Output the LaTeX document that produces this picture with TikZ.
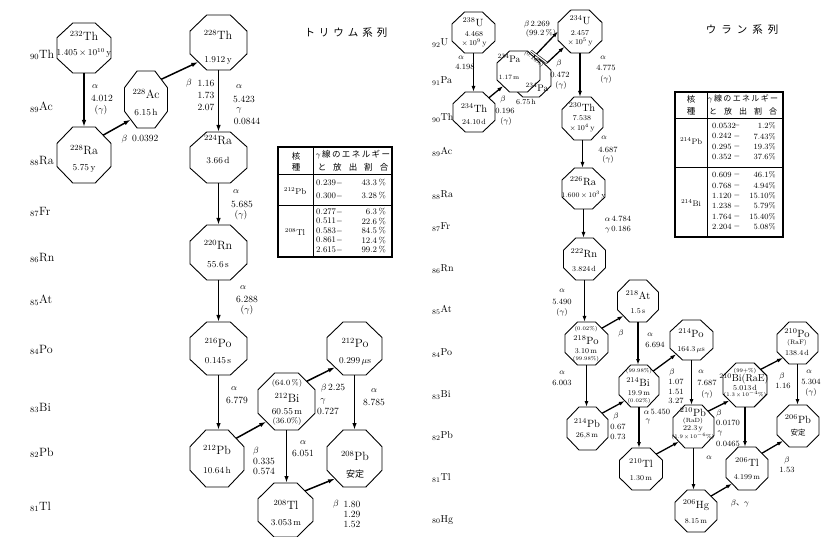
\documentclass[tikz,border=0pt]{standalone}
\usepackage{fontspec}
\newfontfamily\jp{Noto Sans CJK JP}
\usetikzlibrary{calc,arrows.meta}
\newcommand{\octnode}[5][]{%
  \node[octbox, minimum width=#4pt, minimum height=#5pt] (#2) at (#3) {};
  \draw[octline,#1] ($(#2.north west)!.293!(#2.north east)$) -- ($(#2.north east)!.293!(#2.north west)$) -- ($(#2.north east)!.293!(#2.south east)$) -- ($(#2.south east)!.293!(#2.north east)$) -- ($(#2.south east)!.293!(#2.south west)$) -- ($(#2.south west)!.293!(#2.south east)$) -- ($(#2.south west)!.293!(#2.north west)$) -- ($(#2.north west)!.293!(#2.south west)$) -- cycle;
  \coordinate (#2-ne) at ($(#2.north east)!.146!(#2.south west)$);
  \coordinate (#2-sw) at ($(#2.south west)!.146!(#2.north east)$);
}
\newcommand{\ms}[2]{\textsuperscript{#1}#2}
\tikzset{
  octbox/.style={draw=none, inner sep=0pt, outer sep=0pt},
  octline/.style={line width=0.9pt, line join=miter},
  decay/.style={line width=1.5pt, -{Latex[length=7pt,width=4.5pt]}},
  rdecay/.style={line width=1.3pt, -{Latex[length=6pt,width=4pt]}},
  itline/.style={double, double distance=1.2pt, line width=0.6pt},
  big/.style={inner sep=0pt, font=\fontsize{12}{12}\selectfont},
  hl/.style={inner sep=0pt, font=\fontsize{9}{9}\selectfont},
  lab/.style={inner sep=0pt, font=\fontsize{9.5}{9.5}\selectfont},
  small/.style={inner sep=0pt, font=\fontsize{8}{8}\selectfont},
  side/.style={inner sep=0pt, anchor=west, font=\fontsize{12}{12}\selectfont},
  rside/.style={inner sep=0pt, anchor=west, font=\fontsize{10}{10}\selectfont},
  rbig/.style={inner sep=0pt, font=\fontsize{10.5}{10.5}\selectfont},
  rhl/.style={inner sep=0pt, font=\fontsize{7.5}{7.5}\selectfont},
  rlab/.style={inner sep=0pt, font=\fontsize{8}{8}\selectfont},
  tiny/.style={inner sep=0pt, font=\fontsize{5.5}{5.5}\selectfont},
  tab/.style={inner sep=0pt, font=\fontsize{8.5}{8.5}\selectfont},
  rtab/.style={inner sep=0pt, font=\fontsize{8}{8}\selectfont},
  jph/.style={inner sep=0pt, font=\jp\fontsize{8.5}{8.5}\selectfont},
  tabo/.style={line width=1.1pt},
  tabi/.style={line width=0.8pt},
}
\begin{document}
\begin{tikzpicture}[x=1pt,y=-1pt]
\useasboundingbox[fill=white] (0,0) rectangle (830,537);

%================ LEFT : Thorium series =================
\node[side] (s90) at (30,55) {\textsubscript{90}Th};
\node[side] (s89) at (30,107) {\textsubscript{89}Ac};
\node[side] (s88) at (30,161) {\textsubscript{88}Ra};
\node[side] (s87) at (30,212) {\textsubscript{87}Fr};
\node[side] (s86) at (30,258) {\textsubscript{86}Rn};
\node[side] (s85) at (30,300) {\textsubscript{85}At};
\node[side] (s84) at (30,350) {\textsubscript{84}Po};
\node[side] (s83) at (30,408) {\textsubscript{83}Bi};
\node[side] (s82) at (30,453) {\textsubscript{82}Pb};
\node[side] (s81) at (30,507) {\textsubscript{81}Tl};

\node[inner sep=0pt, font=\jp\fontsize{10.5}{10.5}\selectfont] (ttl) at (346,33) {ト\hspace{4pt}リ\hspace{4pt}ウ\hspace{4pt}ム\hspace{4pt}系\hspace{4pt}列};

\octnode{th232}{84,48}{54}{50}
\octnode{ra228}{84,155}{54}{56}
\octnode{ac228}{146,99.5}{43}{57}
\octnode{th228}{218.5,42.5}{57}{55}
\octnode{ra224}{218.5,157.5}{57}{51}
\octnode{rn220}{218.5,252.5}{57}{55}
\octnode{po216}{218.5,348.5}{57}{53}
\octnode{pb212}{217,458.5}{54}{57}
\octnode{bi212}{286.5,401.5}{57}{57}
\octnode{po212}{354.5,348.5}{55}{53}
\octnode{pb208}{354.5,458.5}{55}{57}
\octnode{tl208}{285.5,510}{55}{54}

\node[big] (t1) at (84,36) {\ms{232}{Th}};
\node[hl] (t2) at (84,53) {1.405\,$\times$\,10\textsuperscript{10}\,y};
\node[big] (t3) at (84,150) {\ms{228}{Ra}};
\node[hl] (t4) at (84,168) {5.75\,y};
\node[big] (t5) at (146,94) {\ms{228}{Ac}};
\node[hl] (t6) at (146,112) {6.15\,h};
\node[big] (t7) at (218,35) {\ms{228}{Th}};
\node[hl] (t8) at (218,60) {1.912\,y};
\node[big] (t9) at (218,140) {\ms{224}{Ra}};
\node[hl] (t10) at (218,160) {3.66\,d};
\node[big] (t11) at (218,245) {\ms{220}{Rn}};
\node[hl] (t12) at (218,265) {55.6\,s};
\node[big] (t13) at (218,343) {\ms{216}{Po}};
\node[hl] (t14) at (218,361) {0.145\,s};
\node[big] (t15) at (355,343) {\ms{212}{Po}};
\node[hl] (t16) at (355,361) {0.299\,$\mu$s};
\node[big] (t17) at (217,450) {\ms{212}{Pb}};
\node[hl] (t18) at (217,470) {10.64\,h};
\node[small] (t19) at (287,383) {(64.0\,\%)};
\node[big] (t20) at (287,398) {\ms{212}{Bi}};
\node[hl] (t21) at (287,412) {60.55\,m};
\node[small] (t22) at (287,421) {(36.0\%)};
\node[big] (t23) at (355,456) {\ms{208}{Pb}};
\node[inner sep=0pt, font=\jp\fontsize{9}{9}\selectfont] (t24) at (355,474) {安定};
\node[big] (t25) at (286,505) {\ms{208}{Tl}};
\node[hl] (t26) at (286,523) {3.053\,m};

\draw[decay] (th232.south) -- (th232.south |- ra228.north);
\draw[decay] (ra228-ne) -- (ac228-sw);
\draw[decay] (ac228-ne) -- (th228-sw);
\draw[decay] (th228.south) -- (ra224.north);
\draw[decay] (ra224.south) -- (rn220.north);
\draw[decay] (rn220.south) -- (po216.north);
\draw[decay] (po216.south) -- (po216.south |- pb212.north);
\draw[decay] (pb212-ne) -- (bi212-sw);
\draw[decay] (bi212-ne) -- (po212-sw);
\draw[decay] (po212.south) -- (pb208.north);
\draw[decay] (bi212.south) -- (bi212.south |- tl208.north);
\draw[decay] (tl208-ne) -- (pb208-sw);

\node[lab] (l1) at (95,87) {$\alpha$};
\node[lab] (l2) at (102,98) {4.012};
\node[lab] (l3) at (101,110) {($\gamma$)};
\node[lab] (l4) at (140,139) {$\beta$\enspace0.0392};
\node[lab] (l5) at (189,83) {$\beta$};
\node[lab] (l6) at (206,83) {1.16};
\node[lab] (l7) at (206,95) {1.73};
\node[lab] (l8) at (206,107) {2.07};
\node[lab] (l9) at (239,87) {$\alpha$};
\node[lab] (l10) at (244,99) {5.423};
\node[lab] (l11) at (239,110) {$\gamma$};
\node[lab] (l12) at (247,121) {0.0844};
\node[lab] (l13) at (236,192) {$\alpha$};
\node[lab] (l14) at (242,204) {5.685};
\node[lab] (l15) at (241,215) {($\gamma$)};
\node[lab] (l16) at (243,288) {$\alpha$};
\node[lab] (l17) at (247,299) {6.288};
\node[lab] (l18) at (247,310) {($\gamma$)};
\node[lab] (l19) at (234,389) {$\alpha$};
\node[lab] (l20) at (237,400) {6.779};
\node[lab] (l21) at (333,388) {$\beta$\,2.25};
\node[lab] (l22) at (323,401) {$\gamma$};
\node[lab] (l23) at (328,411) {0.727};
\node[lab] (l24) at (374,391) {$\alpha$};
\node[lab] (l25) at (374,402) {8.785};
\node[lab] (l26) at (256,451) {$\beta$};
\node[lab] (l27) at (264,461) {0.335};
\node[lab] (l28) at (264,471) {0.574};
\node[lab] (l29) at (303,443) {$\alpha$};
\node[lab] (l30) at (303,453) {6.051};
\node[lab] (l31) at (336,504) {$\beta$};
\node[lab] (l32) at (352,504) {1.80};
\node[lab] (l33) at (352,514) {1.29};
\node[lab] (l34) at (352,524) {1.52};

\draw[tabo] (278,147) rectangle (392,257);
\draw[tabi] (313,147) -- (313,257);
\draw[tabi] (278,174) -- (392,174);
\draw[tabi] (278,205) -- (392,205);
\node[jph] (h1) at (296,156) {核};
\node[jph] (h2) at (296,167) {種};
\node[inner sep=0pt, font=\jp\fontsize{8.5}{8.5}\selectfont] (h3) at (353,155) {$\gamma$\,線\,の\,エ\,ネ\,ル\,ギ\,ー};
\node[jph] (h4) at (353,167) {と\hspace{7pt}放\hspace{7pt}出\hspace{7pt}割\hspace{7pt}合};
\node[tab] (k1) at (295,191) {\ms{212}{Pb}};
\node[tab] (k2) at (295,232) {\ms{208}{Tl}};
\node[tab,anchor=west] (a1) at (316,183) {0.239$-$};
\node[tab,anchor=east] (b1) at (386,183) {43.3\,\%};
\node[tab,anchor=west] (a2) at (316,196) {0.300$-$};
\node[tab,anchor=east] (b2) at (386,196) {3.28\,\%};
\node[tab,anchor=west] (a3) at (316,212) {0.277$-$};
\node[tab,anchor=east] (b3) at (386,212) {6.3\,\%};
\node[tab,anchor=west] (a4) at (316,221.5) {0.511$-$};
\node[tab,anchor=east] (b4) at (386,221.5) {22.6\,\%};
\node[tab,anchor=west] (a5) at (316,231) {0.583$-$};
\node[tab,anchor=east] (b5) at (386,231) {84.5\,\%};
\node[tab,anchor=west] (a6) at (316,240.5) {0.861$-$};
\node[tab,anchor=east] (b6) at (386,240.5) {12.4\,\%};
\node[tab,anchor=west] (a7) at (316,250) {2.615$-$};
\node[tab,anchor=east] (b7) at (386,250) {99.2\,\%};

%================ RIGHT : Uranium series =================
\node[rside] (r92) at (432,43) {\textsubscript{92}U};
\node[rside] (r91) at (432,81) {\textsubscript{91}Pa};
\node[rside] (r90) at (432,118) {\textsubscript{90}Th};
\node[rside] (r89) at (432,152) {\textsubscript{89}Ac};
\node[rside] (r88) at (432,195) {\textsubscript{88}Ra};
\node[rside] (r87) at (432,227) {\textsubscript{87}Fr};
\node[rside] (r86) at (432,269) {\textsubscript{86}Rn};
\node[rside] (r85) at (432,310) {\textsubscript{85}At};
\node[rside] (r84) at (432,353) {\textsubscript{84}Po};
\node[rside] (r83) at (432,395) {\textsubscript{83}Bi};
\node[rside] (r82) at (432,436) {\textsubscript{82}Pb};
\node[rside] (r81) at (432,478) {\textsubscript{81}Tl};
\node[rside] (r80) at (432,520) {\textsubscript{80}Hg};

\node[inner sep=0pt, font=\jp\fontsize{10.5}{10.5}\selectfont] (ttr) at (742,30) {ウ\hspace{5pt}ラ\hspace{5pt}ン\hspace{5pt}系\hspace{5pt}列};

\octnode{u238}{473.5,32.5}{43}{41}
\octnode{th234}{474,112}{42}{40}
\octnode{pa}{531,78}{40}{38}
\octnode[fill=white]{pam}{518.5,71.5}{43}{41}
\octnode{u234}{580,31.5}{44}{43}
\octnode{th230}{582.5,118.5}{41}{43}
\octnode{ra226}{583.5,188.5}{43}{41}
\octnode{rn222}{584.5,259}{42}{42}
\octnode{po218}{586.5,343.5}{43}{43}
\octnode{at218}{638,301}{41}{42}
\octnode{pb214}{587.5,428.5}{41}{43}
\octnode{bi214}{639,386}{40}{42}
\octnode{po214}{691.5,340}{43}{40}
\octnode{tl210}{641,469}{43}{42}
\octnode{pb210}{693.5,426.5}{41}{43}
\octnode{hg206}{696,511}{42}{42}
\octnode{bi210}{745,385}{44}{44}
\octnode{po210}{797.5,343}{41}{42}
\octnode{tl206}{747,468.5}{42}{43}
\octnode{pb206}{798,426}{42}{42}

\coordinate (itA) at (531,51);
\coordinate (itB) at (547,63);

\node[rbig] (q1) at (473,22) {\ms{238}{U}};
\node[rhl] (q2) at (474,34) {4.468};
\node[rhl] (q3) at (474,43) {$\times$\,10\textsuperscript{9}\,y};
\node[rbig] (q4) at (474,108) {\ms{234}{Th}};
\node[rhl] (q5) at (474,122) {24.10\,d};
\node[inner sep=0pt, font=\fontsize{9.5}{9.5}\selectfont] (q6) at (509,58) {\ms{234}{Pa}};
\node[inner sep=0pt, font=\fontsize{6.5}{6.5}\selectfont] (q7) at (509,77) {1.17\,m};
\node[inner sep=0pt, font=\fontsize{9.5}{9.5}\selectfont] (q8) at (537,87) {\ms{234}{Pa}};
\node[rhl] (q9) at (526,102) {6.75\,h};
\node[rbig] (q10) at (580,20) {\ms{234}{U}};
\node[rhl] (q11) at (580,33) {2.457};
\node[rhl] (q12) at (580,42) {$\times$\,10\textsuperscript{5}\,y};
\node[rbig] (q13) at (582,107) {\ms{230}{Th}};
\node[rhl] (q14) at (582,118) {7.538};
\node[rhl] (q15) at (582,128) {$\times$\,10\textsuperscript{4}\,y};
\node[rbig] (q16) at (583,181) {\ms{226}{Ra}};
\node[inner sep=0pt, font=\fontsize{7}{7}\selectfont] (q17) at (583.5,195) {1.600\,$\times$\,10\textsuperscript{3}\,y};
\node[rbig] (q18) at (584,253) {\ms{222}{Rn}};
\node[rhl] (q19) at (584,269) {3.824\,d};
\node[tiny] (q20) at (586,329) {(0.02\%)};
\node[rbig] (q21) at (586,340) {\ms{218}{Po}};
\node[rhl] (q22) at (586,351) {3.10\,m};
\node[tiny] (q23) at (586,359) {(99.98\%)};
\node[rbig] (q24) at (638,295) {\ms{218}{At}};
\node[rhl] (q25) at (638,311) {1.5\,s};
\node[rbig] (q26) at (587,423) {\ms{214}{Pb}};
\node[rhl] (q27) at (587,436) {26,8\,m};
\node[tiny] (q28) at (639,371) {(99.98\%)};
\node[rbig] (q29) at (638,382) {\ms{214}{Bi}};
\node[rhl] (q30) at (639,393) {19.9\,m};
\node[tiny] (q31) at (639,401) {(0.02\%)};
\node[rbig] (q32) at (691,333) {\ms{214}{Po}};
\node[rhl] (q33) at (691,350) {164.3\,$\mu$s};
\node[rbig] (q34) at (641,463) {\ms{210}{Tl}};
\node[rhl] (q35) at (641,478) {1.30\,m};
\node[rbig] (q36) at (693,412) {\ms{210}{Pb}};
\node[inner sep=0pt, font=\fontsize{6}{6}\selectfont] (q37) at (693,421) {(RaD)};
\node[rhl] (q38) at (693,429) {22.3\,y};
\node[tiny] (q39) at (693,437) {(1.9\,$\times$\,10\textsuperscript{$-6$}\%)};
\node[rbig] (q40) at (696,505) {\ms{206}{Hg}};
\node[rhl] (q41) at (696,521) {8.15\,m};
\node[tiny] (q42) at (745,371) {(99+\%)};
\node[inner sep=0pt, font=\fontsize{10}{10}\selectfont] (q43) at (744,379) {\ms{210}{Bi(RaE)}};
\node[rhl] (q44) at (745,387.5) {5.013\,d};
\node[tiny] (q45) at (745,395) {(1.3\,$\times$\,10\textsuperscript{$-4$}\%)};
\node[rbig] (q46) at (797,333) {\ms{210}{Po}};
\node[inner sep=0pt, font=\fontsize{6.5}{6.5}\selectfont] (q47) at (797,343) {(RaF)};
\node[rhl] (q48) at (797,353) {138.4\,d};
\node[rbig] (q49) at (747,462) {\ms{206}{Tl}};
\node[rhl] (q50) at (747,477) {4.199\,m};
\node[rbig] (q51) at (798,419) {\ms{206}{Pb}};
\node[inner sep=0pt, font=\jp\fontsize{7.5}{7.5}\selectfont] (q52) at (798,433) {安定};

\draw[rdecay] (u238.south) -- (u238.south |- th234.north);
\draw[rdecay] (th234-ne) -- (pam-sw);
\draw[rdecay] (pam-ne) -- (u234.west);
\draw[itline] (itA) -- (itB);
\draw[rdecay] (itB) -- (u234-sw);
\draw[rdecay] (u234.south) -- (u234.south |- th230.north);
\draw[rdecay] (th230.south) -- (th230.south |- ra226.north);
\draw[rdecay] (ra226.south) -- (ra226.south |- rn222.north);
\draw[rdecay] (rn222.south) -- (rn222.south |- po218.north);
\draw[rdecay] (po218-ne) -- (at218-sw);
\draw[rdecay] (po218.south) -- (po218.south |- pb214.north);
\draw[rdecay] (at218.south) -- (at218.south |- bi214.north);
\draw[rdecay] (pb214-ne) -- (bi214-sw);
\draw[rdecay] (bi214-ne) -- (po214-sw);
\draw[rdecay] (bi214.south) -- (bi214.south |- tl210.north);
\draw[rdecay] (po214.south) -- (po214.south |- pb210.north);
\draw[rdecay] (tl210-ne) -- (pb210-sw);
\draw[rdecay] (pb210-ne) -- (bi210-sw);
\draw[rdecay] (pb210.south) -- (pb210.south |- hg206.north);
\draw[rdecay] (hg206-ne) -- (tl206-sw);
\draw[rdecay] (bi210-ne) -- (po210-sw);
\draw[rdecay] (bi210.south) -- (bi210.south |- tl206.north);
\draw[rdecay] (po210.south) -- (po210.south |- pb206.north);
\draw[rdecay] (tl206-ne) -- (pb206-sw);

\node[rlab] (m1) at (461,58) {$\alpha$};
\node[rlab] (m2) at (465,67) {4.198};
\node[rlab] (m3) at (503,100) {$\beta$};
\node[rlab] (m4) at (505,111) {0.196};
\node[rlab] (m5) at (506,122) {($\gamma$)};
\node[rlab] (m6) at (537,25) {$\beta$\,2.269};
\node[rlab] (m7) at (541,34) {(99.2\,\%)};
\node[rlab] (m8) at (559,64) {$\beta$};
\node[rlab] (m9) at (560,75) {0.472};
\node[rlab] (m10) at (561,86) {($\gamma$)};
\node[inner sep=0pt, font=\fontsize{5.5}{5.5}\selectfont, rotate=-37] (m11) at (534,59) {(0.16\%)};
\node[rlab] (m12) at (603,58) {$\alpha$};
\node[rlab] (m13) at (606,68) {4.775};
\node[rlab] (m14) at (606,80) {($\gamma$)};
\node[rlab] (m15) at (604,138) {$\alpha$};
\node[rlab] (m16) at (608,150) {4.687};
\node[rlab] (m17) at (608,160) {($\gamma$)};
\node[rlab] (m18) at (618,219) {$\alpha$\,4.784};
\node[rlab] (m19) at (618,230) {$\gamma$\,0.186};
\node[rlab] (m20) at (562,291) {$\alpha$};
\node[rlab] (m21) at (562,302) {5.490};
\node[rlab] (m22) at (562,313) {($\gamma$)};
\node[rlab] (m23) at (621,334) {$\beta$};
\node[rlab] (m24) at (562,373) {$\alpha$};
\node[rlab] (m25) at (562,383) {6.003};
\node[rlab] (m26) at (616,416) {$\beta$};
\node[rlab] (m27) at (618,427) {0.67};
\node[rlab] (m28) at (618,437) {0.73};
\node[rlab] (m29) at (650,335) {$\alpha$};
\node[rlab] (m30) at (655,345) {6.694};
\node[rlab] (m31) at (672,372) {$\beta$};
\node[rlab] (m32) at (676,382) {1.07};
\node[rlab] (m33) at (676,392) {1.51};
\node[rlab] (m34) at (676,401) {3.27};
\node[rlab] (m35) at (701,372) {$\alpha$};
\node[rlab] (m36) at (707,383) {7.687};
\node[rlab] (m37) at (707,394) {($\gamma$)};
\node[rlab] (m38) at (657,412) {$\alpha$\,5.450};
\node[rlab] (m39) at (648,422) {$\gamma$};
\node[rlab] (m40) at (719,413) {$\beta$};
\node[rlab] (m41) at (728,423) {0.0170};
\node[rlab] (m42) at (720,434) {$\gamma$};
\node[rlab] (m43) at (728,444) {0.0465};
\node[rlab] (m44) at (709,458) {$\alpha$};
\node[rlab] (m45) at (740,503) {$\beta${\jp 、}$\gamma$};
\node[rlab] (m46) at (782,376) {$\beta$};
\node[rlab] (m47) at (783,386) {1.16};
\node[rlab] (m48) at (809,372) {$\alpha$};
\node[rlab] (m49) at (811,382) {5.304};
\node[rlab] (m50) at (811,392) {($\gamma$)};
\node[rlab] (m51) at (787,460) {$\beta$};
\node[rlab] (m52) at (787,470) {1.53};

\draw[tabo] (675,92) rectangle (783,237);
\draw[tabi] (707,92) -- (707,237);
\draw[tabi] (675,118) -- (783,118);
\draw[tabi] (675,167) -- (783,167);
\node[jph] (g1) at (691,99) {核};
\node[jph] (g2) at (691,111) {種};
\node[inner sep=0pt, font=\jp\fontsize{8}{8}\selectfont] (g3) at (743,99) {$\gamma$\,線\,の\,エ\,ネ\,ル\,ギ\,ー};
\node[inner sep=0pt, font=\jp\fontsize{8}{8}\selectfont] (g4) at (743,111) {と\hspace{7pt}放\hspace{7pt}出\hspace{7pt}割\hspace{7pt}合};
\node[rtab] (g5) at (691,141) {\ms{214}{Pb}};
\node[rtab] (g6) at (691,203) {\ms{214}{Bi}};
\foreach \v/\p/\y [count=\i] in {0.0532/1.2\%/126, 0.242/7.43\%/136.3, 0.295/19.3\%/146.7, 0.352/37.6\%/157, 0.609/46.1\%/175, 0.768/4.94\%/185.4, 1.120/15.10\%/195.8, 1.238/5.79\%/206.2, 1.764/15.40\%/216.6, 2.204/5.08\%/227}{
  \node[rtab,anchor=west] (v\i) at (712,\y) {\v};
  \node[rtab] (d\i) at (737,\y) {$-$};
  \node[rtab,anchor=east] (p\i) at (776,\y) {\p};
}
\end{tikzpicture}
\end{document}
